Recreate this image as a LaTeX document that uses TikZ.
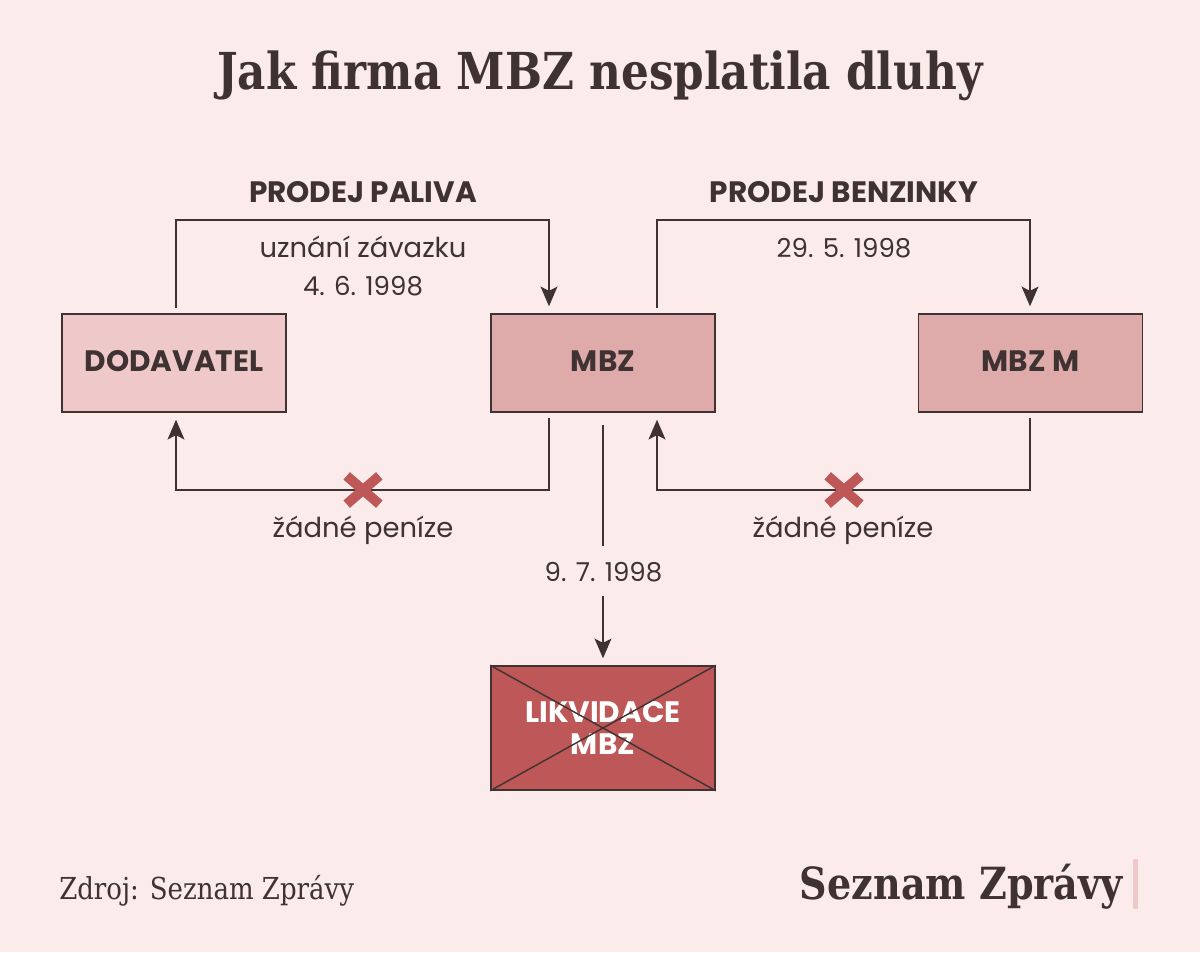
\documentclass[tikz,border=0pt]{standalone}
\usepackage{fontspec}
\usetikzlibrary{arrows.meta,shapes.misc}
\setmainfont{Poppins}
\newfontfamily\titlefont[FakeStretch=0.86]{DejaVu Serif}
\definecolor{paper}{HTML}{FBEBEB}
\definecolor{ink}{HTML}{3E3232}
\definecolor{lightbox}{HTML}{EFC9C9}
\definecolor{midbox}{HTML}{DFAAAA}
\definecolor{redbox}{HTML}{BE5757}
\tikzset{string/.style={ink, line width=1pt}}
\tikzset{link/.style={string, -{Stealth[length=14pt,width=12pt,inset=3pt]}, shorten >=5.5pt, shorten <=4.3pt}}
\tikzset{button/.style={draw=ink, line width=1pt, minimum height=2.45cm, minimum width=5.6cm, inner sep=0pt, text=ink, text depth=2.5pt, font=\fontsize{21}{24}\selectfont\bfseries}}
\tikzset{A/.style={button, fill=lightbox}}
\tikzset{B/.style={button, fill=midbox}}
\tikzset{C/.style={button, fill=redbox, text=white, text depth=, minimum height=3.1cm, align=center, font=\fontsize{21}{22.5}\selectfont\bfseries}}
\tikzset{caption/.style={text=ink, font=\fontsize{18.5}{26.5}\selectfont, align=center}}
\tikzset{wording/.style={caption, font=\fontsize{19.5}{26.5}\selectfont}}
\tikzset{heading/.style={text=ink, font=\fontsize{21}{24}\selectfont\bfseries}}
\tikzset{nopay/.style={cross out, draw=redbox, line width=7pt, minimum width=0.57cm, minimum height=0.46cm, inner sep=0pt}}

\begin{document}
\begin{tikzpicture}[x=0.025cm,y=-0.025cm]
\fill[paper] (0,0) rectangle (1200,952);
\useasboundingbox (0,0) rectangle (1200,952);
\node[text=ink, font=\titlefont\fontsize{36.2}{44}\selectfont\bfseries] (title) at (600,76) {Jak firma MBZ nesplatila dluhy};
\node[A] (dodavatel) at (174,363) {DODAVATEL};
\node[B] (mbz) at (603,363) {MBZ};
\node[B] (mbzm) at (1030.5,363) {MBZ M};
\node[C] (likvidace) at (603,728) {LIKVIDACE\\MBZ};
\draw[string] (likvidace.north west) -- (likvidace.south east);
\draw[string] (likvidace.north east) -- (likvidace.south west);
% connection points
\coordinate (dodtop) at (176,314);
\coordinate (dodbot) at (176,412);
\coordinate (mbztopa) at (549,314);
\coordinate (mbztopb) at (657,314);
\coordinate (mbzbota) at (549,412);
\coordinate (mbzbotb) at (657,412);
\coordinate (mtop) at (1030,314);
\coordinate (mbot) at (1030,412);
\draw[link] (dodtop) -- ++(0,-94) -| (mbztopa);
\draw[link] (mbztopb) -- ++(0,-94) -| (mtop);
\draw[link] (mbzbota) -- ++(0,78) -| (dodbot);
\draw[link] (mbot) -- ++(0,78) -| (mbzbotb);
\node[heading] (paliva) at (363,192) {PRODEJ PALIVA};
\node[heading] (benzinky) at (844,192) {PRODEJ BENZINKY};
\node[wording] (uznani) at (363,266) {uznání závazku\\\fontsize{18.5}{26.5}\selectfont 4. 6. 1998};
\node[caption] (kupni) at (844,248) {29. 5. 1998};
\node[nopay] (xa) at (363,490) {};
\node[nopay] (xb) at (844,490) {};
\node[wording] (nica) at (363,530) {žádné peníze};
\node[wording] (nicb) at (843,530) {žádné peníze};
\node[caption] (datum) at (603.5,572) {9. 7. 1998};
\coordinate (mbzbot) at (603,425);
\coordinate (likvtop) at (603,666);
\draw[string] (mbzbot) -- (603,546);
\draw[link, shorten <=0pt] (603,596) -- (likvtop);
\node[text=ink, anchor=west, inner sep=0pt, font=\titlefont\fontsize{21.5}{24}\selectfont] (zdroj) at (59,891) {Zdroj: Seznam Zprávy};
\node[text=ink, anchor=east, inner sep=0pt, font=\titlefont\fontsize{31.5}{36}\selectfont\bfseries] (brand) at (1123,887) {Seznam Zprávy};
\fill[lightbox] (1133,859) rectangle (1138,909);
\end{tikzpicture}
\end{document}
